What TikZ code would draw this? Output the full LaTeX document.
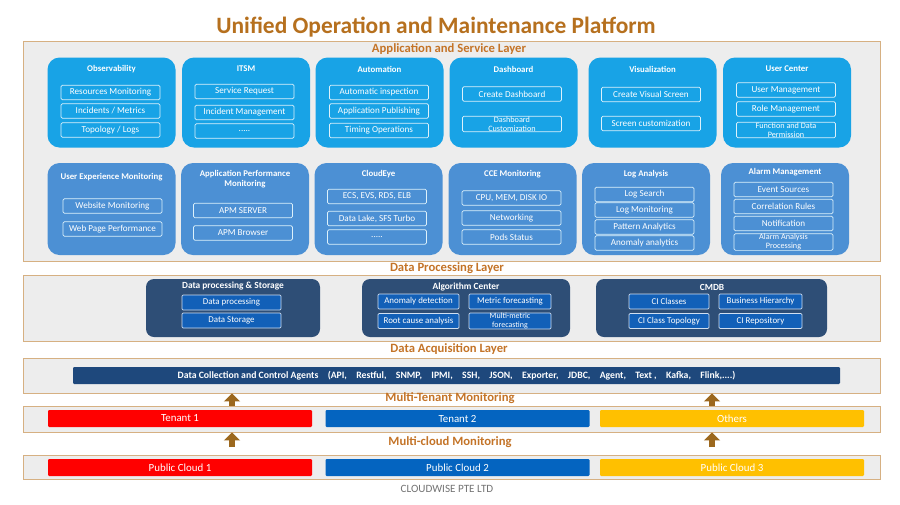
\documentclass[tikz,border=0pt]{standalone}
\usepackage{fontspec}
\setmainfont{Carlito}
\usepackage{tikz}
\usetikzlibrary{arrows.meta,positioning}

\definecolor{titlebrown}{RGB}{182,112,30}
\definecolor{layerbrown}{RGB}{196,116,40}
\definecolor{framefill}{RGB}{237,237,237}
\definecolor{frameline}{RGB}{214,176,130}
\definecolor{skyblue}{RGB}{24,163,230}
\definecolor{midblue}{RGB}{76,144,212}
\definecolor{navy}{RGB}{46,78,118}
\definecolor{navyitem}{RGB}{18,96,184}
\definecolor{agentbar}{RGB}{30,72,124}
\definecolor{tenantred}{RGB}{255,0,0}
\definecolor{tenantblue}{RGB}{4,100,192}
\definecolor{tenantyellow}{RGB}{255,192,0}
\definecolor{arrowbrown}{RGB}{156,104,30}

\begin{document}
\begin{tikzpicture}[
  x=0.3mm, y=-0.3mm,
  layerbox/.style={draw=frameline, fill=framefill, line width=0.8pt, minimum width=857*0.3mm, inner sep=0pt},
  lbl/.style={font=\fontsize{10.8}{12}\selectfont\bfseries, text=layerbrown, inner sep=0pt},
  card/.style={rounded corners=3.6mm, minimum width=128*0.3mm, inner sep=0pt},
  topcard/.style={card, fill=skyblue, minimum height=90*0.3mm},
  lowcard/.style={card, fill=midblue, minimum height=92*0.3mm},
  ctitle/.style={font=\fontsize{7.5}{8.5}\selectfont\bfseries, text=white, align=center, inner sep=0pt},
  item/.style={draw=white!85!skyblue, line width=0.6pt, rounded corners=1.2pt, minimum width=99*0.3mm, minimum height=14.5*0.3mm, inner sep=0pt, font=\fontsize{7.8}{7}\selectfont, text=white, align=center},
  item2/.style={item, font=\fontsize{7}{8.2}\selectfont},
  navycard/.style={rounded corners=2.4mm, fill=navy, minimum height=58*0.3mm, inner sep=0pt},
  navyitem/.style={draw=white!80!navyitem, fill=navyitem, line width=0.6pt, rounded corners=1pt, minimum height=15*0.3mm, inner sep=0pt, font=\fontsize{7.6}{6.8}\selectfont, text=white, align=center},
  bar/.style={minimum width=264*0.3mm, minimum height=17*0.3mm, inner sep=0pt, rounded corners=1pt, font=\fontsize{9.3}{10}\selectfont, text=white},
  arr/.style={-{Triangle[width=4.8mm, length=2.4mm]}, line width=1.8mm, arrowbrown}
]
\path[use as bounding box, fill=white] (0,0) rectangle (900,504);

\node[font=\fontsize{20}{22}\selectfont\bfseries, text=titlebrown] (title) at (436,27) {Unified Operation and Maintenance Platform};

% application and service layer
\node[layerbox, minimum height=220*0.3mm] (applayer) at (451.5,151.5) {};
\node[lbl] (applbl) at (449,49) {Application and Service Layer};

\node[topcard] (obs) at (111.5,102.5) {};
\node[ctitle] (obst) at (111.5,69) {Observability};
\node[item] (obs1) at (110.5,92.5) {Resources Monitoring};
\node[item] (obs2) at (110.5,111) {Incidents / Metrics};
\node[item] (obs3) at (110.5,130) {Topology / Logs};

\node[topcard] (itsm) at (246,102.5) {};
\node[ctitle] (itsmt) at (246,69) {ITSM};
\node[item] (itsm1) at (244.5,91.5) {Service Request};
\node[item] (itsm2) at (244.5,112.5) {Incident Management};
\node[item] (itsm3) at (244.5,131) {.....};

\node[topcard] (auto) at (379.5,102.5) {};
\node[ctitle] (autot) at (379.5,69) {Automation};
\node[item] (auto1) at (379,92.5) {Automatic inspection};
\node[item] (auto2) at (379,111) {Application Publishing};
\node[item] (auto3) at (379,130.5) {Timing Operations};

\node[topcard] (dash) at (513.5,102.5) {};
\node[ctitle] (dasht) at (513.5,69) {Dashboard};
\node[item] (dash1) at (512,94) {Create Dashboard};
\node[item2] (dash2) at (512,124) {Dashboard\\Customization};

\node[topcard] (vis) at (652.5,102.5) {};
\node[ctitle] (vist) at (652.5,69) {Visualization};
\node[item] (vis1) at (651,94.5) {Create Visual Screen};
\node[item] (vis2) at (651,123.5) {Screen customization};

\node[topcard] (user) at (787,102.5) {};
\node[ctitle] (usert) at (787,69) {User Center};
\node[item] (user1) at (786,90) {User Management};
\node[item] (user2) at (786,109) {Role Management};
\node[item2] (user3) at (786,130) {Function and Data\\Permission};

\node[lowcard] (uem) at (111.5,209) {};
\node[ctitle] (uemt) at (111.5,177) {User Experience Monitoring};
\node[item] (uem1) at (112.5,206) {Website Monitoring};
\node[item] (uem2) at (112.5,229) {Web Page Performance};

\node[lowcard] (apm) at (245,209) {};
\node[ctitle] (apmt) at (245,179.5) {Application Performance\\Monitoring};
\node[item] (apm1) at (243,210.5) {APM SERVER};
\node[item] (apm2) at (243,233) {APM Browser};

\node[lowcard] (eye) at (378.5,209) {};
\node[ctitle] (eyet) at (378.5,174) {CloudEye};
\node[item] (eye1) at (377,196.5) {ECS, EVS, RDS, ELB};
\node[item] (eye2) at (377,218.5) {Data Lake, SFS Turbo};
\node[item] (eye3) at (377,237) {.....};

\node[lowcard] (cce) at (512.5,209) {};
\node[ctitle] (ccet) at (512.5,174) {CCE Monitoring};
\node[item] (cce1) at (511.5,198) {CPU, MEM, DISK IO};
\node[item] (cce2) at (511.5,218) {Networking};
\node[item] (cce3) at (511.5,237) {Pods Status};

\node[lowcard] (log) at (646,209) {};
\node[ctitle] (logt) at (646,174) {Log Analysis};
\node[item] (log1) at (644.5,194.5) {Log Search};
\node[item] (log2) at (644.5,210) {Log Monitoring};
\node[item] (log3) at (644.5,227) {Pattern Analytics};
\node[item] (log4) at (644.5,243) {Anomaly analytics};

\node[lowcard] (alarm) at (785,209) {};
\node[ctitle] (alarmt) at (785,172) {Alarm Management};
\node[item] (alarm1) at (783.5,189.5) {Event Sources};
\node[item] (alarm2) at (783.5,206.5) {Correlation Rules};
\node[item] (alarm3) at (783.5,223.5) {Notification};
\node[item2] (alarm4) at (783.5,242) {Alarm Analysis\\Processing};

% data processing layer
\node[lbl] (dplbl) at (447,268) {Data Processing Layer};
\node[layerbox, minimum height=66*0.3mm] (dplayer) at (451.5,308) {};

\node[navycard, minimum width=174*0.3mm] (dps) at (233,308) {};
\node[ctitle, font=\fontsize{8}{9}\selectfont\bfseries] (dpst) at (233,286) {Data processing \& Storage};
\node[navyitem, minimum width=99*0.3mm] (dps1) at (231.5,302.5) {Data processing};
\node[navyitem, minimum width=99*0.3mm] (dps2) at (231.5,320.5) {Data Storage};

\node[navycard, minimum width=208*0.3mm] (alg) at (466,308) {};
\node[ctitle, font=\fontsize{8}{9}\selectfont\bfseries] (algt) at (466,287) {Algorithm Center};
\node[navyitem, minimum width=81*0.3mm] (alg1) at (418.5,301.5) {Anomaly detection};
\node[navyitem, minimum width=82*0.3mm] (alg2) at (510,301.5) {Metric forecasting};
\node[navyitem, minimum width=81*0.3mm] (alg3) at (418.5,321) {Root cause analysis};
\node[navyitem, minimum width=82*0.3mm, font=\fontsize{6.8}{7.8}\selectfont] (alg4) at (510,321) {Multi-metric\\forecasting};

\node[navycard, minimum width=231*0.3mm] (cmdb) at (711.5,308) {};
\node[ctitle, font=\fontsize{8}{9}\selectfont\bfseries] (cmdbt) at (712,287) {CMDB};
\node[navyitem, minimum width=80*0.3mm] (cmdb1) at (669,301.5) {CI Classes};
\node[navyitem, minimum width=83*0.3mm] (cmdb2) at (760.5,301.5) {Business Hierarchy};
\node[navyitem, minimum width=80*0.3mm] (cmdb3) at (669,321) {CI Class Topology};
\node[navyitem, minimum width=83*0.3mm] (cmdb4) at (760.5,321) {CI Repository};

% data acquisition layer
\node[lbl] (aqlbl) at (449,349) {Data Acquisition Layer};
\node[layerbox, minimum height=35*0.3mm] (aqlayer) at (451.5,375.5) {};
\node[bar, fill=agentbar, minimum width=767*0.3mm, font=\fontsize{8.3}{9}\selectfont\bfseries] (agents) at (456.5,375.5)
  {Data Collection and Control Agents\hspace{8pt}(API,\hspace{8pt}Restful,\hspace{8pt}SNMP,\hspace{8pt}IPMI,\hspace{8pt}SSH,\hspace{8pt}JSON,\hspace{8pt}Exporter,\hspace{8pt}JDBC,\hspace{8pt}Agent,\hspace{8pt}Text ,\hspace{8pt}Kafka,\hspace{8pt}Flink,....)};

% tenants
\node[lbl] (mtlbl) at (450,398) {Multi-Tenant Monitoring};
\node[layerbox, minimum height=26*0.3mm] (tenants) at (451.5,419) {};
\node[bar, fill=tenantred] (t1) at (180,418.5) {Tenant 1};
\node[bar, fill=tenantblue] (t2) at (457.5,418.5) {Tenant 2};
\node[bar, fill=tenantyellow] (t3) at (732,418.5) {Others};

% clouds
\node[lbl] (mclbl) at (450,442) {Multi-cloud Monitoring};
\node[layerbox, minimum height=24*0.3mm] (clouds) at (451.5,467) {};
\node[bar, fill=tenantred] (c1) at (180,467.5) {Public Cloud 1};
\node[bar, fill=tenantblue] (c2) at (457.5,467.5) {Public Cloud 2};
\node[bar, fill=tenantyellow] (c3) at (732,467.5) {Public Cloud 3};

\node[font=\fontsize{9.5}{10}\selectfont, text=black!55] (corp) at (447,489) {CLOUDWISE PTE LTD};

\coordinate (la) at (232,447);
\coordinate (ra) at (712,447);
\draw[arr] (tenants.north -| la) -- (aqlayer.south -| la);
\draw[arr] (tenants.north -| ra) -- (aqlayer.south -| ra);
\draw[arr] (la) -- (tenants.south -| la);
\draw[arr] (ra) -- (tenants.south -| ra);
\end{tikzpicture}
\end{document}
